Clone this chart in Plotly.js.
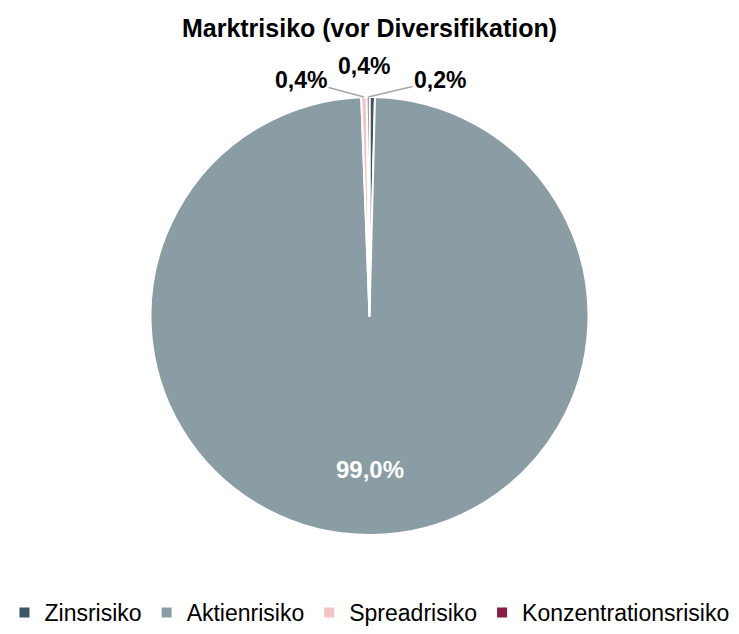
<!DOCTYPE html>
<html>
<head>
<meta charset="utf-8">
<script src="https://cdn.plot.ly/plotly-3.0.1.min.js"></script>
<style>html,body{margin:0;padding:0;background:#fff;}#chart{width:739px;height:634px;}</style>
</head>
<body>
<div id="chart"></div>
<script>
const categories = ["Zinsrisiko", "Aktienrisiko", "Spreadrisiko", "Konzentrationsrisiko"];
const values = [0.4, 99.0, 0.4, 0.2];
const colors = ["#3b5866", "#8a9ca4", "#f2c4c4", "#8b1c48"];
const chartTitle = "Marktrisiko (vor Diversifikation)";

// layout constants (pixels)
const W = 739, H = 634;
const CX = W / 2, CY = 316, R = 219;
const FONT = "Liberation Sans, Arial, sans-serif";
// label placement offsets (text centre relative to slice rim point / for big slice radial factor)
const labelStyle = [
  {arrow: false, ax: -8, ay: -31},   // Zins
  {inside: true, rf: 0.70},          // Aktien
  {arrow: true, ax: -63, ay: -17},   // Spread
  {arrow: true, ax: 72, ay: -17}     // Konz
];

const total = values.reduce((a, b) => a + b, 0);
const fmt = v => (v / total * 100).toFixed(1).replace(".", ",") + "%";
const px2x = px => px / W;
const py2y = py => 1 - py / H;

const annotations = [];
let cum = 0;
values.forEach((v, i) => {
  const mid = (cum + v / 2) / total * 2 * Math.PI; // clockwise from 12 o'clock
  cum += v;
  const s = labelStyle[i];
  if (s.inside) {
    annotations.push({
      xref: "paper", yref: "paper", xanchor: "center", yanchor: "middle",
      x: px2x(CX + s.rf * R * Math.sin(mid)), y: py2y(CY - s.rf * R * Math.cos(mid)),
      text: "<b>" + fmt(v) + "</b>", showarrow: false,
      font: {family: FONT, size: 24, color: "#ffffff"}
    });
  } else {
    const hx = CX + R * Math.sin(mid), hy = CY - R * Math.cos(mid);
    if (s.arrow) {
      annotations.push({
        xref: "paper", yref: "paper", x: px2x(hx), y: py2y(hy),
        ax: s.ax, ay: s.ay, axref: "pixel", ayref: "pixel",
        text: "<b>" + fmt(v) + "</b>", showarrow: true, arrowhead: 0,
        arrowwidth: 1.5, arrowcolor: "#a6a6a6", standoff: 0,
        font: {family: FONT, size: 23, color: "#000000"}
      });
    } else {
      annotations.push({
        xref: "paper", yref: "paper", xanchor: "center", yanchor: "middle",
        x: px2x(hx + s.ax), y: py2y(hy + s.ay),
        text: "<b>" + fmt(v) + "</b>", showarrow: false,
        font: {family: FONT, size: 23, color: "#000000"}
      });
    }
  }
});

const trace = {
  type: "pie",
  labels: categories,
  values: values,
  sort: false,
  direction: "clockwise",
  rotation: 0,
  marker: {colors: colors, line: {color: "#ffffff", width: 2}},
  textinfo: "none",
  hoverinfo: "label+percent",
  domain: {x: [0, 1], y: [1 - (CY + R) / H, 1 - (CY - R) / H]}
};

const layout = {
  width: W, height: H,
  margin: {l: 0, r: 0, t: 0, b: 0, autoexpand: false},
  separators: ",.",
  paper_bgcolor: "#fff",
  font: {family: FONT, color: "#000"},
  title: {text: "<b>" + chartTitle + "</b>", x: 0.5, xanchor: "center", y: 1 - 28 / H, yanchor: "middle",
          font: {size: 25, family: FONT, color: "#000"}},
  showlegend: true,
  legend: {orientation: "h", x: 0.5, xanchor: "center", y: 0, yanchor: "bottom",
           font: {size: 23, family: FONT, color: "#000"},
           itemwidth: 30, tracegroupgap: 0},
  annotations: annotations
};

Plotly.newPlot("chart", [trace], layout, {displayModeBar: false, staticPlot: true});
</script>
</body>
</html>
